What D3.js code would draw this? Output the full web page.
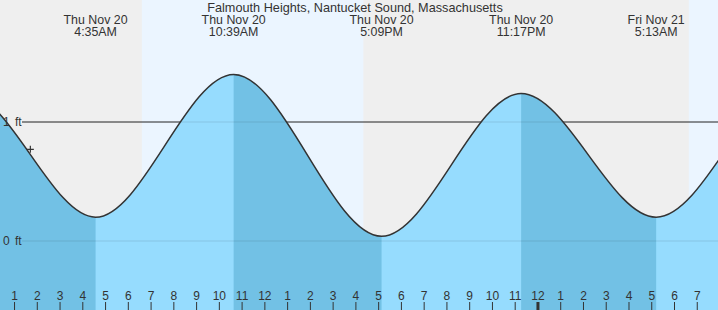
<!DOCTYPE html>
<html>
<head>
<meta charset="utf-8">
<script src="https://cdn.jsdelivr.net/npm/d3@7"></script>
<style>
  body { margin: 0; background: #fff; }
  svg { display: block; font-family: "Liberation Sans", Arial, sans-serif; }
</style>
</head>
<body>
<svg id="chart" width="718" height="310"></svg>
<script>
// tide extremes (times are local station time, stored as UTC so the browser zone doesn't matter)
const tideTimes = ["2025-11-19T16:50", "2025-11-19T22:54", "2025-11-20T04:35", "2025-11-20T10:39",
                   "2025-11-20T17:09", "2025-11-20T23:17", "2025-11-21T05:13", "2025-11-21T11:30", "2025-11-21T17:45"];
const tideHeights = [0.05, 1.24, 0.20, 1.40, 0.04, 1.24, 0.20, 1.38, 0.05];

// day bands
const sunriseTimes = ["2025-11-20T06:37", "2025-11-21T06:39"];
const sunsetTimes = ["2025-11-20T16:21", "2025-11-21T16:20"];

// current time marker
const nowTime = "2025-11-20T01:43";
const nowHeight = 0.77;

const gridFeet = [1, 0];
const titleText = "Falmouth Heights, Nantucket Sound, Massachusetts";

const W = 718, H = 310;
const parse = d3.utcParse("%Y-%m-%dT%H:%M");
const fmtDay = d3.utcFormat("%a %b %d");
const fmtTime = d3.utcFormat("%-I:%M%p");

const tides = tideTimes.map((t, i) => ({ t: parse(t), h: tideHeights[i] }));

const x = d3.scaleUtc()
  .domain([parse("2025-11-20T00:23"), parse("2025-11-21T07:56")])
  .range([0, W]);
const y = d3.scaleLinear().domain([0, 1]).range([241, 122]);

const svg = d3.select("#chart");

// night background, then day bands
svg.append("rect").attr("width", W).attr("height", H).attr("fill", "#efefef");
svg.selectAll("rect.day")
  .data(sunriseTimes.map((s, i) => [parse(s), parse(sunsetTimes[i])]))
  .enter().append("rect")
  .attr("class", "day")
  .attr("x", d => x(d[0]))
  .attr("width", d => Math.max(0, Math.min(W, x(d[1])) - x(d[0])))
  .attr("y", 0).attr("height", H)
  .attr("fill", "#ebf5ff");

// grid lines under the water
svg.selectAll("line.grid")
  .data(gridFeet)
  .enter().append("line")
  .attr("class", "grid")
  .attr("x1", 22).attr("x2", W)
  .attr("y1", d => y(d)).attr("y2", d => y(d))
  .attr("stroke", "#333").attr("stroke-width", 1);

// clip for falling tide segments (darker)
const falling = d3.pairs(tides).filter(p => p[0].h > p[1].h);
svg.append("clipPath").attr("id", "fallClip")
  .selectAll("rect")
  .data(falling)
  .enter().append("rect")
  .attr("x", d => x(d[0].t))
  .attr("width", d => x(d[1].t) - x(d[0].t))
  .attr("y", 0).attr("height", H);

const area = d3.area()
  .x(d => x(d.t)).y0(H).y1(d => y(d.h))
  .curve(d3.curveMonotoneX);
const line = d3.line()
  .x(d => x(d.t)).y(d => y(d.h))
  .curve(d3.curveMonotoneX);

svg.append("path").datum(tides).attr("d", area).attr("fill", "#96dcfe");
svg.append("path").datum(tides).attr("d", area).attr("fill", "#72c1e5")
  .attr("clip-path", "url(#fallClip)");

// faint grid over the water
svg.selectAll("line.gridTop")
  .data(gridFeet)
  .enter().append("line")
  .attr("x1", 22).attr("x2", W)
  .attr("y1", d => y(d)).attr("y2", d => y(d))
  .attr("stroke", "#000").attr("stroke-opacity", 0.1);

svg.append("path").datum(tides).attr("d", line)
  .attr("fill", "none").attr("stroke", "#333").attr("stroke-width", 1.5);

// grid labels
svg.selectAll("text.ft")
  .data(gridFeet)
  .enter().append("text")
  .attr("x", 3).attr("y", d => y(d) + 4)
  .attr("font-size", 12).attr("fill", "#333")
  .attr("word-spacing", 2)
  .text(d => d + " ft");

// current time cross
svg.append("path")
  .attr("transform", `translate(${x(parse(nowTime))},${y(nowHeight)})`)
  .attr("d", "M-3.5,0H3.5M0,-3.5V3.5")
  .attr("stroke", "#333").attr("stroke-width", 1.2);

// title
svg.append("text")
  .attr("x", 355).attr("y", 12)
  .attr("text-anchor", "middle")
  .attr("font-size", 12.7).attr("fill", "#333")
  .text(titleText);

// high/low labels
const [t0, t1] = x.domain();
const events = svg.selectAll("g.event")
  .data(tides.filter(d => d.t >= t0 && d.t <= t1))
  .enter().append("g")
  .attr("transform", d => `translate(${x(d.t)},0)`)
  .attr("font-size", 12.4).attr("fill", "#333")
  .attr("text-anchor", "middle");
events.append("text").attr("y", 24).text(d => fmtDay(d.t));
events.append("text").attr("y", 36).text(d => fmtTime(d.t));

// hour axis along the bottom
const axis = d3.axisTop(x)
  .ticks(d3.utcHour.every(1))
  .tickSize(8)
  .tickPadding(2)
  .tickFormat(d => (d.getUTCHours() % 12) || 12);

const gAxis = svg.append("g")
  .attr("transform", `translate(0,${H})`)
  .call(axis)
  .attr("font-family", null)
  .attr("font-size", 12);
gAxis.select(".domain").remove();
gAxis.selectAll(".tick line")
  .attr("stroke", "#333")
  .attr("stroke-width", d => d.getUTCHours() === 0 ? 3 : 1);
gAxis.selectAll(".tick text").attr("fill", "#333");
</script>
</body>
</html>
